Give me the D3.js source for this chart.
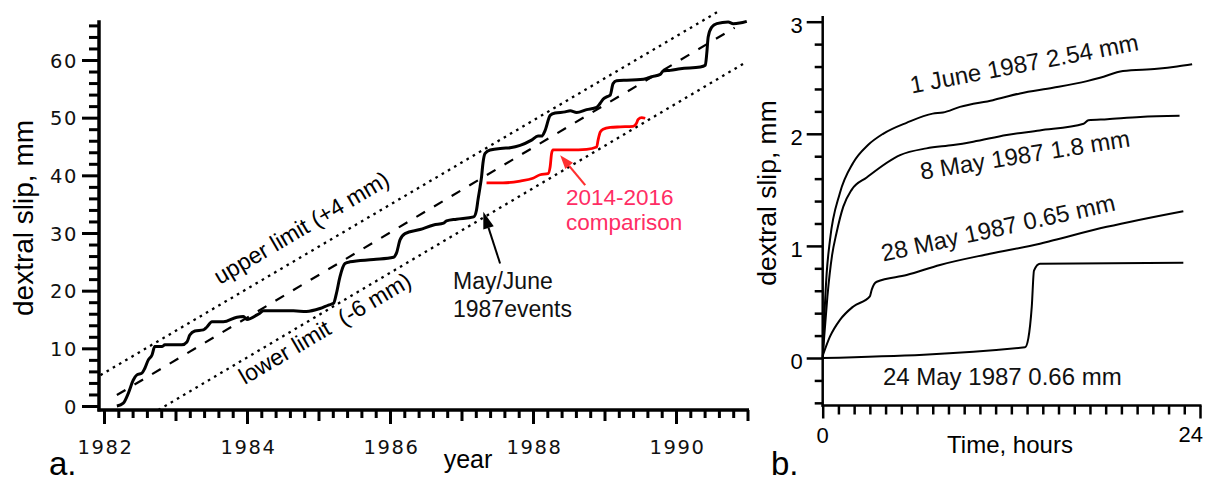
<!DOCTYPE html>
<html><head><meta charset="utf-8">
<script src="https://cdn.jsdelivr.net/npm/d3@7"></script>
<style>
body{margin:0;background:#fff;}
svg{display:block;background:#fff;}
</style></head><body>
<svg id="c" width="1208" height="481"></svg>
<script>
// ---------- Panel a data ----------
const slipYears = [1982.18,1982.27,1982.34,1982.41,1982.46,1982.53,1982.57,1982.62,1982.67,1982.71,1982.81,1982.85,1983.09,1983.16,1983.20,1983.27,1983.39,1983.44,1983.51,1983.67,1983.86,1983.95,1984.00,1984.14,1984.18,1984.23,1984.46,1984.65,1984.83,1985.02,1985.14,1985.21,1985.25,1985.30,1985.37,1985.44,1985.77,1986.05,1986.09,1986.14,1986.21,1986.42,1986.61,1986.75,1986.79,1986.93,1987.17,1987.21,1987.23,1987.26,1987.28,1987.30,1987.33,1987.40,1987.58,1987.68,1987.82,1987.98,1988.07,1988.12,1988.17,1988.24,1988.31,1988.45,1988.52,1988.61,1988.75,1988.89,1988.94,1988.98,1989.03,1989.08,1989.12,1989.17,1989.31,1989.50,1989.59,1989.66,1989.78,1989.82,1989.92,1990.06,1990.34,1990.41,1990.43,1990.45,1990.50,1990.57,1990.73,1990.80,1990.89,1990.99];
const slipValues = [0.0,0.5,2.2,4.5,5.4,5.7,6.5,8.0,8.8,10.3,10.3,10.6,10.6,11.1,12.3,13.0,13.2,13.7,14.6,14.6,15.4,15.5,15.0,15.8,16.1,16.5,16.5,16.5,16.4,16.9,17.5,17.8,19.5,22.4,24.7,25.0,25.4,25.8,26.5,28.8,29.9,30.6,31.4,31.7,32.1,32.4,32.8,34.0,35.7,38.0,39.7,42.1,43.8,44.4,44.7,44.8,45.2,46.1,46.8,46.8,47.8,50.4,50.8,51.0,51.2,50.9,51.4,51.8,52.5,53.2,53.6,53.9,55.9,56.4,56.5,56.6,56.8,57.1,57.5,58.1,58.2,58.5,58.8,59.1,61.1,64.0,65.7,66.3,66.6,66.3,66.4,66.7];

const recentYears = [1987.35,1987.58,1987.82,1988.00,1988.10,1988.21,1988.24,1988.26,1988.28,1988.52,1988.75,1988.89,1988.91,1988.94,1988.98,1989.08,1989.22,1989.40,1989.45,1989.47,1989.52,1989.57];
const recentValues = [38.7,38.7,39.0,39.5,40.1,40.3,41.5,43.8,44.4,44.4,44.5,44.9,46.1,47.5,48.0,48.3,48.4,48.5,49.1,49.7,50.0,49.9];

const trendYears = [1982.18, 1990.82];
const trendValues = [1.9, 65.6];
const upperYears = [1981.95, 1990.59];
const upperValues = [5.35, 68.4];
const lowerYears = [1982.76, 1990.99];
const lowerValues = [-0.7, 59.7];

const yearMajorTicks = [1982,1984,1986,1988,1990];
const yearMidTicks = [1983,1985,1987,1989,1991];
const slipMajorTicks = [0,10,20,30,40,50,60];

// ---------- Panel b data ----------
const june1Hours = [0,0.1,0.25,0.46,1.09,1.93,2.88,3.84,5.36,7.0,7.65,8.73,10.83,12.55,14.65,16.81,17.64,19.1,21.27,22.54,23.5];
const june1Slip  = [0,0.35,0.75,1.05,1.47,1.74,1.90,2.00,2.10,2.18,2.19,2.24,2.30,2.36,2.41,2.47,2.50,2.56,2.58,2.60,2.62];
const may8Hours = [0,0.1,0.3,0.6,0.87,1.31,1.84,2.8,4.92,6.6,8.3,9.58,11.7,13.8,16.6,16.9,18.1,20.2,22.7];
const may8Slip  = [0,0.2,0.55,0.92,1.11,1.35,1.50,1.61,1.81,1.87,1.90,1.93,1.99,2.03,2.09,2.12,2.13,2.15,2.16];
const may28Hours = [0,0.46,1.1,1.95,3.0,3.12,3.44,5.34,7.46,10.64,13.82,14.67,18.07,22.94];
const may28Slip  = [0.02,0.19,0.34,0.46,0.55,0.61,0.68,0.74,0.83,0.93,1.02,1.05,1.17,1.31];
const may24Hours = [0,12.87,13.08,13.3,13.44,13.82,22.94];
const may24Slip  = [0,0.095,0.175,0.46,0.78,0.84,0.85];

const curveLabels = ["1 June 1987 2.54 mm","8 May 1987 1.8 mm","28 May 1987 0.65 mm","24 May 1987 0.66 mm"];
const hourLabels = ["0","24"];
const slipBMajor = [0,1,2,3];

// ---------- drawing ----------
const svg = d3.select("#c");
const SANS = "'Liberation Sans', Arial, Helvetica, sans-serif";
const GEO = "'DejaVu Sans', sans-serif";

const xA = d3.scaleLinear().domain([1982,1990]).range([104,676]);
const yA = d3.scaleLinear().domain([0,60]).range([406,60]);
const zip = (a,b)=>a.map((d,i)=>[d,b[i]]);

const gA = svg.append("g");

// reference lines
const lineA = d3.line().x(d=>xA(d[0])).y(d=>yA(d[1]));
gA.append("path").attr("d", lineA(zip(upperYears,upperValues)))
  .attr("fill","none").attr("stroke","#000").attr("stroke-width",2.3).attr("stroke-dasharray","2.6,4.6");
gA.append("path").attr("d", lineA(zip(lowerYears,lowerValues)))
  .attr("fill","none").attr("stroke","#000").attr("stroke-width",2.3).attr("stroke-dasharray","2.6,4.6");
gA.append("path").attr("d", lineA(zip(trendYears,trendValues)))
  .attr("fill","none").attr("stroke","#000").attr("stroke-width",2.2).attr("stroke-dasharray","10,10.5");

// data lines
const smoothA = d3.line().x(d=>xA(d[0])).y(d=>yA(d[1])).curve(d3.curveMonotoneX);
gA.append("path").attr("d", smoothA(zip(slipYears,slipValues)))
  .attr("fill","none").attr("stroke","#000").attr("stroke-width",3).attr("stroke-linejoin","round");
gA.append("path").attr("d", smoothA(zip(recentYears,recentValues)))
  .attr("fill","none").attr("stroke","#ff0000").attr("stroke-width",2.8).attr("stroke-linejoin","round");

// axes panel a
const axisYA = 99, axisXA = 410;
gA.append("line").attr("x1",axisYA).attr("x2",axisYA).attr("y1",yA(66.9)).attr("y2",axisXA+1.5)
  .attr("stroke","#000").attr("stroke-width",3.5);
gA.append("line").attr("x1",axisYA-1.5).attr("x2",xA(1991)+1.5).attr("y1",axisXA).attr("y2",axisXA)
  .attr("stroke","#000").attr("stroke-width",3.5);

const minorSlip = d3.range(0,67,2).filter(v=>v%10!==0);
const gYminor = gA.append("g").attr("transform",`translate(${axisYA},0)`)
  .call(d3.axisLeft(yA).tickValues(minorSlip).tickSize(10).tickFormat(""));
const gYmajor = gA.append("g").attr("transform",`translate(${axisYA},0)`)
  .call(d3.axisLeft(yA).tickValues(slipMajorTicks).tickSize(17).tickPadding(4).tickFormat(d3.format("d")));
const minorYears = d3.range(0,46).filter(i=>i%5!==0).map(i=>1982+i/5);
const gXminor = gA.append("g").attr("transform",`translate(0,${axisXA})`)
  .call(d3.axisBottom(xA).tickValues(minorYears).tickSize(8).tickFormat(""));
const gXmid = gA.append("g").attr("transform",`translate(0,${axisXA})`)
  .call(d3.axisBottom(xA).tickValues(yearMidTicks).tickSize(11).tickFormat(""));
const gXmajor = gA.append("g").attr("transform",`translate(0,${axisXA})`)
  .call(d3.axisBottom(xA).tickValues(yearMajorTicks).tickSize(14).tickFormat(d3.format("d")));
[gYminor,gYmajor,gXminor,gXmid,gXmajor].forEach(g=>{
  g.select(".domain").remove();
  g.selectAll(".tick line").attr("stroke","#000").attr("stroke-width",3);
  g.selectAll("text").attr("font-family",GEO).attr("font-size",19.5).attr("fill","#111").attr("letter-spacing","1.6px");
});
gYmajor.selectAll("text").attr("dy","0.36em");
gXmajor.selectAll("text").attr("y",44).attr("dy",null).attr("dx","1px");

// titles panel a
gA.append("text").attr("transform",`translate(33,218) rotate(-90)`).attr("text-anchor","middle")
  .attr("font-family",SANS).attr("font-size",28).text("dextral slip, mm");
gA.append("text").attr("x",468).attr("y",468).attr("text-anchor","middle")
  .attr("font-family",SANS).attr("font-size",25).text("year");
gA.append("text").attr("x",49).attr("y",475).attr("font-family",SANS).attr("font-size",33).text("a.");

// rotated limit labels
const angleOf = (ys,vs)=>Math.atan2(yA(vs[1])-yA(vs[0]), xA(ys[1])-xA(ys[0]))*180/Math.PI;
gA.append("text").attr("transform",`translate(${xA(1983.62)},${yA(20.98)}) rotate(${angleOf(upperYears,upperValues)})`)
  .attr("font-family",SANS).attr("font-size",23).text("upper limit (+4 mm)");
gA.append("text").attr("transform",`translate(${xA(1983.97)},${yA(3.64)}) rotate(${angleOf(lowerYears,lowerValues)})`)
  .attr("font-family",SANS).attr("font-size",23).text("lower limit\u00A0 (-6 mm)");

// annotations
function arrow(g, t0, v0, t1, v1, color, len, hw, w){
  const x0=xA(t0), y0=yA(v0), x1=xA(t1), y1=yA(v1);
  const a=Math.atan2(y1-y0,x1-x0);
  const bx=x1-len*Math.cos(a), by=y1-len*Math.sin(a);
  g.append("line").attr("x1",x0).attr("y1",y0).attr("x2",bx).attr("y2",by)
    .attr("stroke",color).attr("stroke-width",w);
  const px=-Math.sin(a), py=Math.cos(a);
  g.append("path").attr("d",`M${x1},${y1}L${bx+hw*px},${by+hw*py}L${bx-hw*px},${by-hw*py}Z`).attr("fill",color);
}
arrow(gA, 1987.54, 24.7, 1987.305, 33.7, "#000", 17, 5.5, 2);
arrow(gA, 1988.73, 38.3, 1988.38, 43.5, "#ff3030", 14, 5, 2.2);

const t1 = gA.append("text").attr("font-family",SANS).attr("font-size",23).attr("fill","#111");
t1.append("tspan").attr("x",453).attr("y",289).text("May/June");
t1.append("tspan").attr("x",453).attr("y",317).text("1987events");
const t2 = gA.append("text").attr("font-family",SANS).attr("font-size",22.5).attr("fill","#ff2d64");
t2.append("tspan").attr("x",566).attr("y",205).text("2014-2016");
t2.append("tspan").attr("x",566).attr("y",230).text("comparison");

// ---------- Panel b ----------
const xB = d3.scaleLinear().domain([0,24]).range([822.7,1200]);
const yB = d3.scaleLinear().domain([0,3]).range([358,21.7]);
const gB = svg.append("g");
const lineB = d3.line().x(d=>xB(d[0])).y(d=>yB(d[1])).curve(d3.curveMonotoneX);
[[june1Hours,june1Slip],[may8Hours,may8Slip],[may28Hours,may28Slip],[may24Hours,may24Slip]].forEach(([h,s])=>{
  gB.append("path").attr("d",lineB(zip(h,s))).attr("fill","none").attr("stroke","#000").attr("stroke-width",2);
});

const axisYB = xB(0), axisXB = 405.5;
gB.append("line").attr("x1",axisYB).attr("x2",axisYB).attr("y1",yB(3.05)).attr("y2",axisXB+1.2)
  .attr("stroke","#000").attr("stroke-width",2.5);
gB.append("line").attr("x1",axisYB-1.2).attr("x2",xB(24)+1.5).attr("y1",axisXB).attr("y2",axisXB)
  .attr("stroke","#000").attr("stroke-width",2.5);
const minorB = d3.range(-2,15).filter(i=>i%5!==0).map(i=>i/5);
const gBym = gB.append("g").attr("transform",`translate(${axisYB},0)`)
  .call(d3.axisLeft(yB).tickValues(minorB).tickSize(8).tickFormat(""));
const gByM = gB.append("g").attr("transform",`translate(${axisYB},0)`)
  .call(d3.axisLeft(yB).tickValues(slipBMajor).tickSize(16).tickPadding(4).tickFormat(d3.format("d")));
const gBxm = gB.append("g").attr("transform",`translate(0,${axisXB})`)
  .call(d3.axisBottom(xB).tickValues(d3.range(1,24)).tickSize(9).tickFormat(""));
const gBxM = gB.append("g").attr("transform",`translate(0,${axisXB})`)
  .call(d3.axisBottom(xB).tickValues([0,24]).tickSize(13).tickFormat(""));
[gBym,gByM,gBxm,gBxM].forEach(g=>{
  g.select(".domain").remove();
  g.selectAll(".tick line").attr("stroke","#000").attr("stroke-width",2.5);
  g.selectAll("text").attr("font-family",SANS).attr("font-size",22).attr("fill","#000");
});
gByM.selectAll("text").attr("dy","0.48em");
gB.append("text").attr("x",xB(0)).attr("y",443).attr("text-anchor","middle")
  .attr("font-family",SANS).attr("font-size",22).text(hourLabels[0]);
gB.append("text").attr("x",xB(24)+3).attr("y",442).attr("text-anchor","end")
  .attr("font-family",SANS).attr("font-size",22).text(hourLabels[1]);

gB.append("text").attr("transform",`translate(776,193) rotate(-90)`).attr("text-anchor","middle")
  .attr("font-family",SANS).attr("font-size",26.5).text("dextral slip, mm");
gB.append("text").attr("x",1010).attr("y",453).attr("text-anchor","middle")
  .attr("font-family",SANS).attr("font-size",24).text("Time, hours");
gB.append("text").attr("x",771).attr("y",475).attr("font-family",SANS).attr("font-size",33).text("b.");

const labPos = [[5.66,2.36,-10.8],[6.29,1.59,-9.1],[3.85,0.86,-12.4],[3.83,-0.24,0]];
labPos.forEach((p,i)=>{
  gB.append("text").attr("transform",`translate(${xB(p[0])},${yB(p[1])}) rotate(${p[2]})`)
    .attr("font-family",SANS).attr("font-size",24).attr("fill","#111").text(curveLabels[i]);
});
</script>
</body></html>
